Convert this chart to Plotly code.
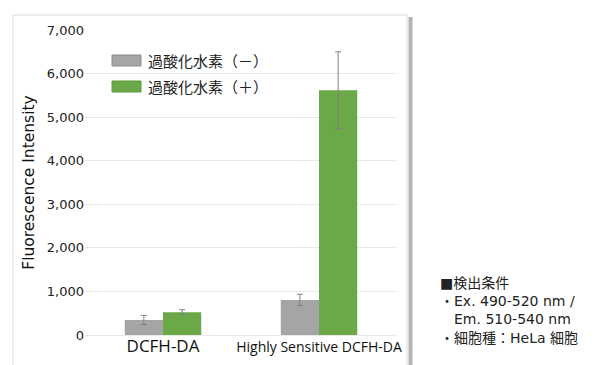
import plotly.graph_objects as go

# Probe names and measured fluorescence (mean ± SD)
categories = ["DCFH-DA", "Highly Sensitive DCFH-DA"]
series_names = ["過酸化水素（－）", "過酸化水素（＋）"]
h2o2_minus = [345, 805]
h2o2_minus_err = [105, 130]
h2o2_plus = [525, 5620]
h2o2_plus_err = [55, 880]
y_ticks = [0, 1000, 2000, 3000, 4000, 5000, 6000, 7000]
y_tick_labels = ["0", "1,000", "2,000", "3,000", "4,000", "5,000", "6,000", "7,000"]
colors = ["#A5A5A5", "#6BA847"]
notes = ["■検出条件", "・Ex. 490-520 nm /", "　Em. 510-540 nm", "・細胞種：HeLa 細胞"]

font_main = "DejaVu Sans, Noto Sans CJK JP, sans-serif"
font_jp = "Noto Sans CJK JP, sans-serif"

fig = go.Figure()
for name, vals, errs, col in [
    (series_names[0], h2o2_minus, h2o2_minus_err, colors[0]),
    (series_names[1], h2o2_plus, h2o2_plus_err, colors[1]),
]:
    fig.add_trace(go.Bar(
        x=categories, y=vals, name=name, marker=dict(color=col, line=dict(width=0)),
        error_y=dict(type="data", array=errs, visible=True, color="#808080",
                     thickness=1, width=3),
        showlegend=False,
    ))

# category labels: the long probe name is set in a narrower face
tick_text = [
    '<span style="font-family:Open Sans;font-size:17px">' + categories[0] + "</span>",
    '<span style="font-family:Open Sans;font-size:14px">' + categories[1] + "</span>",
]

shapes = [
    # chart frame with a soft shadow on the right edge
    dict(type="rect", xref="paper", yref="paper", x0=-72/312, x1=322/312,
         y0=-0.2, y1=320/305, line=dict(color="#dcdcdc", width=1), layer="below"),
    dict(type="line", xref="paper", yref="paper", x0=325.5/312, x1=325.5/312,
         y0=-0.2, y1=318/305, line=dict(color="#b4b4b4", width=4), layer="below"),
]
annotations = []
# legend swatches and labels
for i, (name, col) in enumerate(zip(series_names, colors)):
    ytop = 55 + i * 26
    y0 = (335 - ytop) / 305
    y1 = (335 - (ytop + 11)) / 305
    shapes.append(dict(type="rect", xref="paper", yref="paper",
                       x0=(112 - 85) / 312, x1=(141 - 85) / 312, y0=y1, y1=y0,
                       fillcolor=col, line=dict(color="#8a8a8a" if i == 0 else "#5a9a3a", width=1)))
    label = ('<span style="text-spacing-trim:space-all;font-feature-settings:\'fwid\' 1">'
             + name + "</span>")
    annotations.append(dict(xref="paper", yref="paper", x=(146 - 85) / 312,
                            y=(y0 + y1) / 2, text=label, showarrow=False,
                            xanchor="left", yanchor="middle",
                            font=dict(family=font_jp, size=15, color="#222")))

# detection conditions text block
annotations.append(dict(xref="paper", yref="paper", x=(438 - 85) / 312,
                        y=(335 - 273) / 305, text="<br>".join(notes), showarrow=False,
                        xanchor="left", yanchor="top", align="left",
                        font=dict(family=font_main, size=14, color="#222")))

fig.update_layout(
    width=612, height=365,
    margin=dict(l=85, r=215, t=30, b=30),
    paper_bgcolor="white", plot_bgcolor="white",
    barmode="group", bargap=0.51, bargroupgap=0,
    font=dict(family=font_main, size=13, color="#222"),
    shapes=shapes, annotations=annotations,
    xaxis=dict(showgrid=False, showline=False, ticks="", automargin=False,
               tickvals=categories, ticktext=tick_text,
               tickfont=dict(size=16, color="#111")),
    yaxis=dict(range=[0, 7000], tickvals=y_ticks, ticktext=y_tick_labels,
               automargin=False,
               showgrid=True, gridcolor="#e8e8e8", gridwidth=1,
               zeroline=True, zerolinecolor="#e8e8e8", zerolinewidth=1,
               showline=False, ticks="", tickfont=dict(size=13, color="#222"),
               title=dict(text="Fluorescence Intensity", standoff=8,
                          font=dict(size=15.5, color="#111"))),
)

fig.write_html("out.html")
